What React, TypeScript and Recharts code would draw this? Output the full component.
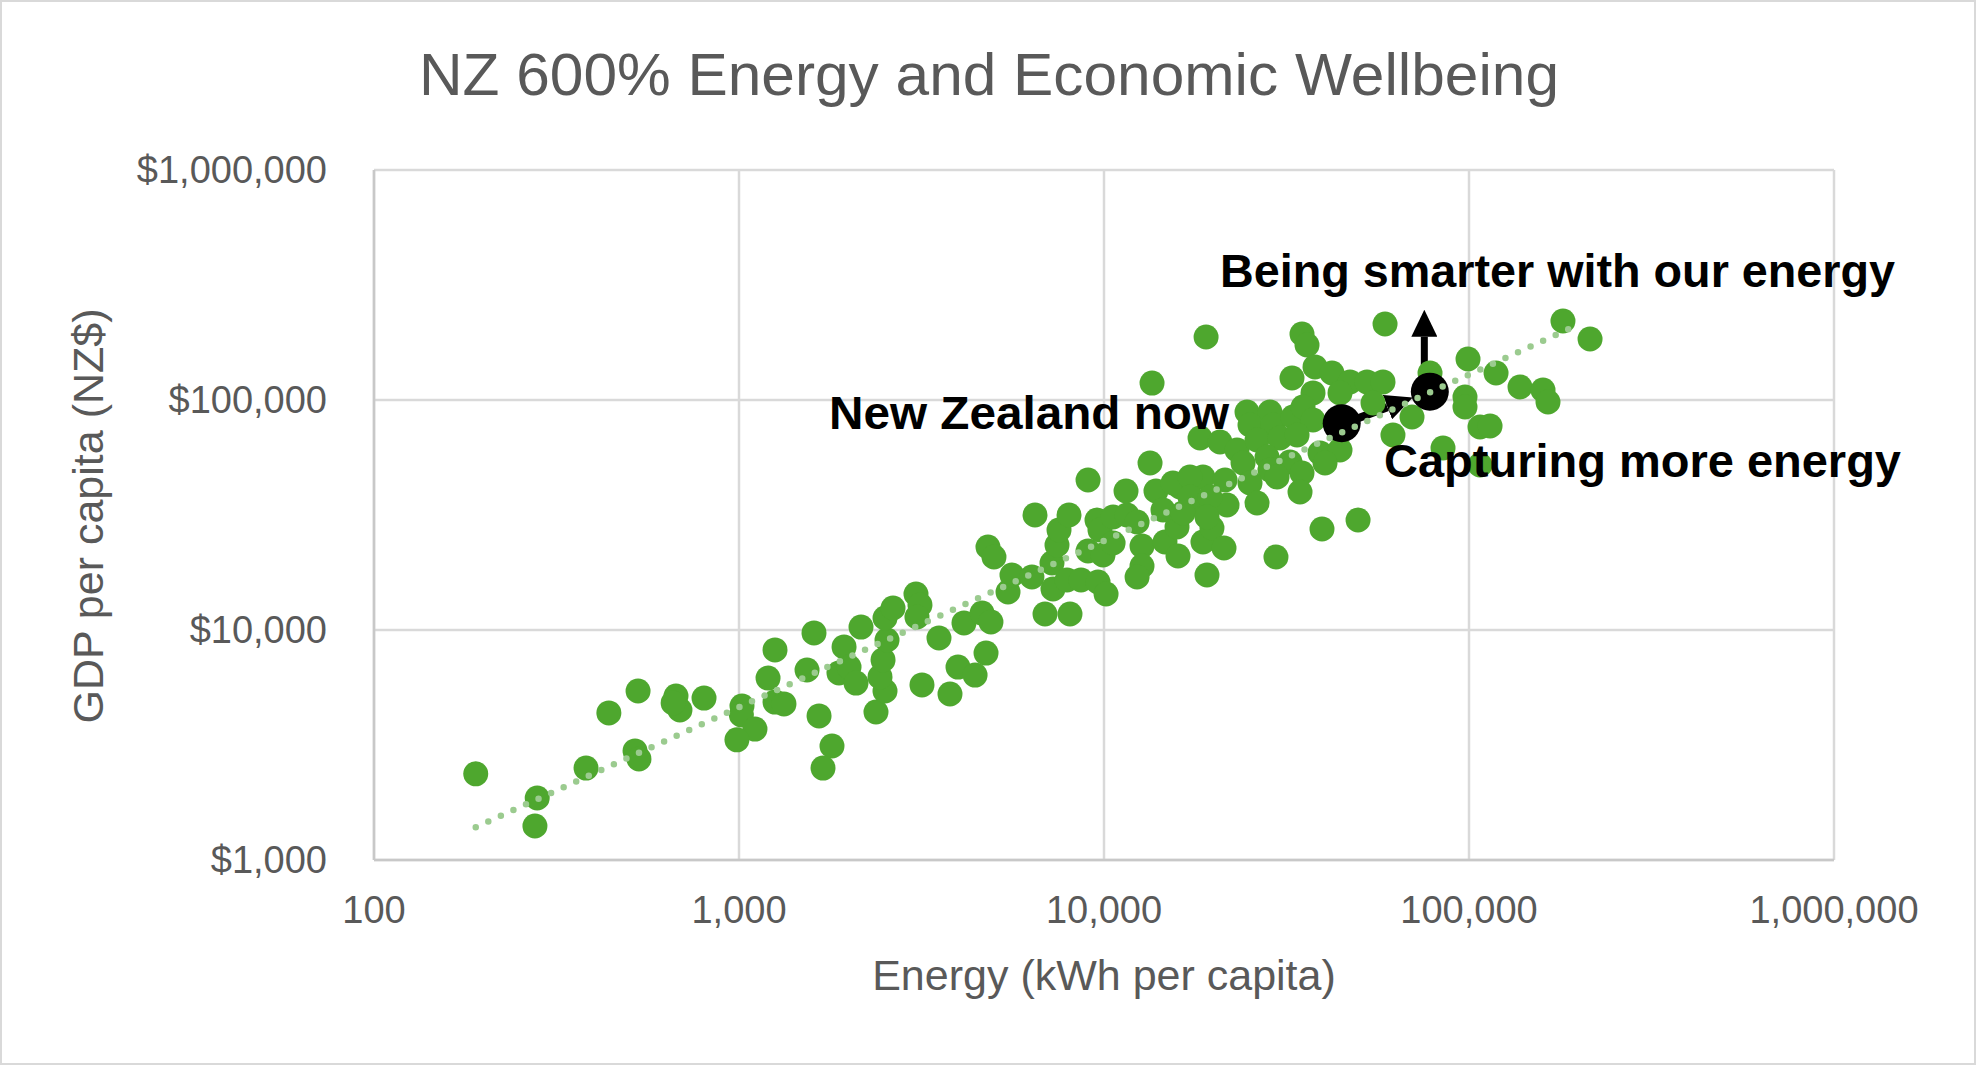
import React from 'react';
import { ScatterChart, Scatter, XAxis, YAxis, CartesianGrid, ReferenceLine } from 'recharts';

// [energy kWh per capita, GDP per capita NZ$]
const countryPoints: [number, number][] = [
  [190, 2370], [280, 1860], [276, 1405], [381, 2510], [440, 4360], [529, 5430], [519, 2980], [532, 2750],
  [672, 5160], [689, 4490], [660, 4820], [802, 5060], [1019, 4670], [1015, 4270], [1106, 3710], [987, 3330],
  [1255, 8190], [1201, 6180], [1255, 4860], [1328, 4770], [1605, 9710], [1536, 6700], [1657, 4230], [1798, 3130],
  [1699, 2510], [1940, 8440], [1879, 6500], [2002, 6900], [2092, 5880], [2159, 10300], [2373, 4400], [2512, 5430],
  [2434, 6250], [2481, 7410], [2544, 9050], [2512, 11280], [2642, 12460], [3054, 14340], [3132, 12850], [3073, 11390],
  [3531, 9230], [3172, 5770], [3785, 5270], [3981, 6900], [4434, 6370], [4751, 7940], [4134, 10730], [4634, 11850],
  [4901, 10830], [4810, 22950], [4995, 20770], [5458, 14630], [5596, 17340], [6347, 17000], [6471, 31620], [6893, 11740],
  [8069, 11740], [7248, 15080], [7203, 19560], [7434, 23420], [7529, 27220], [8020, 31620], [7918, 16500], [8650, 16500],
  [9630, 16170], [10130, 14340], [9042, 22060], [9938, 21190], [9568, 30080], [9750, 27220], [10590, 31000], [11560, 31620],
  [10590, 23890], [12320, 29490], [12710, 23190], [12710, 18980], [12320, 17000], [9042, 44890], [11490, 40200], [13370, 53220],
  [13880, 40200], [14690, 24130], [15950, 20980], [15850, 28040], [16150, 41850], [17530, 44890], [18670, 46250], [17530, 35660],
  [18670, 24130], [19760, 27760], [21320, 22730], [19150, 17340], [21730, 34950], [21460, 44890], [19040, 187900], [13540, 118500],
  [34870, 193600], [35990, 173400], [58880, 214000], [37850, 139200], [42140, 131000], [32740, 124600], [47210, 119800], [52540, 119800],
  [58130, 119800], [37380, 107300], [44320, 107300], [54580, 97050], [69800, 84350], [61900, 70430], [78200, 131000], [24650, 88660],
  [28490, 88660], [25120, 77860], [29040, 77860], [32950, 84350], [35090, 93250], [37380, 81850], [18330, 68350], [20790, 65670],
  [23140, 60630], [26260, 67010], [30350, 68350], [33800, 70430], [24040, 53220], [27970, 56520], [32330, 53750], [39070, 58850],
  [44320, 60630], [40320, 53220], [28490, 49620], [34870, 48150], [25120, 43560], [29790, 46250], [34440, 39810], [26260, 35660],
  [15450, 43560], [17200, 46250], [17200, 37870], [19520, 37870], [14510, 33250], [16460, 32270], [19150, 31000], [39560, 27490],
  [49660, 30080], [99380, 150800], [118600, 131000], [137960, 113900], [159500, 110500], [164600, 98000], [180900, 220600], [214600, 184200],
  [97500, 103000], [97500, 93250], [107200, 76310], [114200, 77090], [84880, 61840], [107200, 52170], [29590, 20770],
];

const nzPoints = [
  { energy: 44800, gdp: 79200 },
  { energy: 78100, gdp: 108700 },
];

const trendEnds = [
  { energy: 190, gdp: 1388 },
  { energy: 200500, gdp: 213300 },
];

const arrowCapture = [
  { x: 47800, y: 81400 },
  { x: 59800, y: 93100 },
];
const arrowSmarter = [
  { x: 75440, y: 137400 },
  { x: 75440, y: 188400 },
];

const annotations = [
  { energy: 1765, gdp: 74780, text: 'New Zealand now' },
  { energy: 20790, gdp: 309900, text: 'Being smarter with our energy' },
  { energy: 58500, gdp: 46250, text: 'Capturing more energy' },
];

const xTicks = [100, 1000, 10000, 100000, 1000000];
const yTicks = [1000, 10000, 100000, 1000000];

const chartTitle = 'NZ 600% Energy and Economic Wellbeing';
const xTitle = 'Energy (kWh per capita)';
const yTitle = 'GDP per capita (NZ$)';

const annotationWidths: Record<string, number> = {
  'New Zealand now': 400,
  'Being smarter with our energy': 675,
  'Capturing more energy': 517,
};

const FONT = '"Liberation Sans", Arial, sans-serif';
const GREY = '#595959';

const countryData = countryPoints.map(([energy, gdp]) => ({ energy, gdp }));

const GreenDot = (p: any) => <circle cx={p.cx} cy={p.cy} r={12.5} fill="#4EA72E" />;
const BlackDot = (p: any) => <circle cx={p.cx} cy={p.cy} r={19} fill="#000000" />;
const NoDot = () => <g />;
const AnnotationText = (p: any) => (
  <text
    x={p.cx}
    y={p.cy}
    fontFamily={FONT}
    fontWeight={700}
    fontSize={47}
    fill="#000"
    textLength={annotationWidths[p.payload.text]}
    lengthAdjust="spacingAndGlyphs"
  >
    {p.payload.text}
  </text>
);

const XTick = (p: any) => (
  <text x={p.x} y={p.y} dy="0.355em" textAnchor="middle" fontFamily={FONT} fontSize={38} fill={GREY}>
    {Number(p.payload.value).toLocaleString('en-US')}
  </text>
);
const YTick = (p: any) => (
  <text x={p.x} y={p.y} dy="0.355em" textAnchor="end" fontFamily={FONT} fontSize={38} fill={GREY}>
    {'$' + Number(p.payload.value).toLocaleString('en-US')}
  </text>
);

export default function App() {
  return (
    <div style={{ position: 'absolute', left: 0, top: 0, width: 1976, height: 1065, background: '#fff' }}>
      <svg width={0} height={0} style={{ position: 'absolute' }}>
        <defs>
          <marker id="arrowHead" markerWidth={27} markerHeight={26} refX={0} refY={13} orient="auto" markerUnits="userSpaceOnUse">
            <path d="M0,0 L27,13 L0,26 Z" fill="#000" />
          </marker>
        </defs>
      </svg>
      <ScatterChart width={1976} height={1065} margin={{ top: 170, right: 142, bottom: 0, left: 0 }}>
        <CartesianGrid stroke="#D9D9D9" strokeWidth={2.5} />
        <XAxis
          type="number"
          dataKey="energy"
          scale="log"
          domain={[100, 1000000]}
          ticks={xTicks}
          height={205}
          tickLine={false}
          tickSize={0}
          tickMargin={50}
          axisLine={{ stroke: '#C8C8C8', strokeWidth: 2.5 }}
          tick={<XTick />}
        />
        <YAxis
          type="number"
          dataKey="gdp"
          scale="log"
          domain={[1000, 1000000]}
          ticks={yTicks}
          width={374}
          tickLine={false}
          tickSize={0}
          tickMargin={47}
          axisLine={{ stroke: '#C8C8C8', strokeWidth: 2.5 }}
          tick={<YTick />}
        />
        <Scatter data={countryData} shape={GreenDot} isAnimationActive={false} />
        <Scatter data={nzPoints} shape={BlackDot} isAnimationActive={false} />
        <Scatter
          data={trendEnds}
          shape={NoDot}
          line={{ stroke: '#9BCB8F', strokeWidth: 6.5, strokeDasharray: '0 13.8', strokeLinecap: 'round' }}
          isAnimationActive={false}
        />
        <ReferenceLine segment={arrowCapture} stroke="#000" strokeWidth={8} markerEnd="url(#arrowHead)" ifOverflow="visible" />
        <ReferenceLine segment={arrowSmarter} stroke="#000" strokeWidth={7} markerEnd="url(#arrowHead)" ifOverflow="visible" />
        <Scatter data={annotations} shape={AnnotationText} isAnimationActive={false} />
      </ScatterChart>
      <svg width={1976} height={1065} style={{ position: 'absolute', left: 0, top: 0, pointerEvents: 'none' }}>
        <text x={989} y={95} textAnchor="middle" fontFamily={FONT} fontSize={59} fill={GREY} textLength={1140} lengthAdjust="spacingAndGlyphs">
          {chartTitle}
        </text>
        <text x={1104} y={990} textAnchor="middle" fontFamily={FONT} fontSize={43} fill={GREY}>
          {xTitle}
        </text>
        <text x={103} y={516} textAnchor="middle" fontFamily={FONT} fontSize={43} fill={GREY} transform="rotate(-90 103 516)">
          {yTitle}
        </text>
        <rect x={1} y={1} width={1974} height={1063} fill="none" stroke="#D9D9D9" strokeWidth={2} />
      </svg>
    </div>
  );
}
